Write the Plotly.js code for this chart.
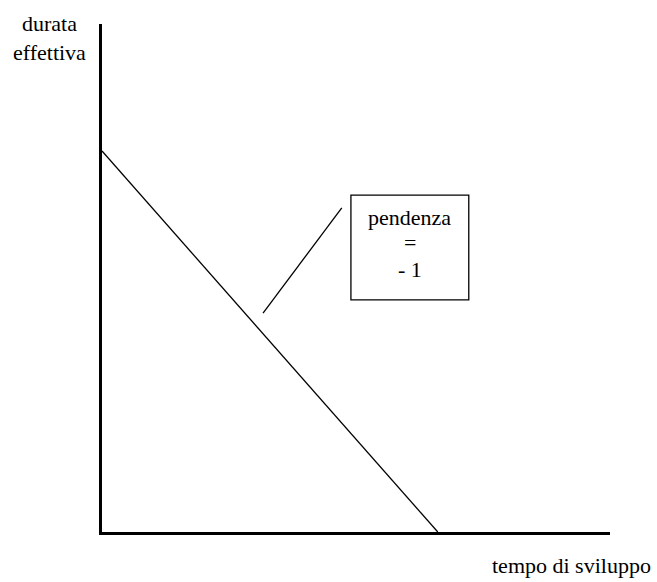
<!DOCTYPE html>
<html>
<head>
<meta charset="utf-8">
<script src="https://cdn.plot.ly/plotly-3.0.1.min.js"></script>
<style>html,body{margin:0;padding:0;background:#fff;}#chart{width:657px;height:582px;}</style>
</head>
<body>
<div id="chart"></div>
<script>
// Data (axis units 0..100 in both directions)
const lineX = [0, 66.1];
const lineY = [75, 0];
const leaderX = [31.7, 47.2];
const leaderY = [43.1, 63.8];
const boxX = [49.0, 72.2];
const boxY = [45.7, 66.3];
const boxLines = ["pendenza", "=", "- 1"];
const boxLineY = [62.0, 56.9, 51.6];
const xLabel = "tempo di sviluppo";
const yLabel = "durata<br>effettiva";

const FONT = "Liberation Serif, Times New Roman, serif";

const traces = [
  {x: lineX, y: lineY, mode: "lines", line: {color: "#000", width: 1.3}, hoverinfo: "skip", showlegend: false},
  {x: leaderX, y: leaderY, mode: "lines", line: {color: "#000", width: 1.3}, hoverinfo: "skip", showlegend: false}
];

const boxCx = (boxX[0] + boxX[1]) / 2;
const annotations = boxLines.map((t, i) => ({
  xref: "x", yref: "y", x: boxCx, y: boxLineY[i], text: t, showarrow: false,
  xanchor: "center", yanchor: "middle", font: {family: FONT, size: 22, color: "#000"}
}));
annotations.push(
  {xref: "paper", yref: "paper", x: -0.104, y: 0.973, text: yLabel, showarrow: false, xanchor: "center", yanchor: "middle", font: {family: FONT, size: 22, color: "#000"}},
  {xref: "paper", yref: "paper", x: 0.925, y: -0.065, text: xLabel, showarrow: false, xanchor: "center", yanchor: "middle", font: {family: FONT, size: 22, color: "#000"}}
);

const layout = {
  width: 657, height: 582,
  margin: {l: 102, r: 47, t: 24, b: 50},
  paper_bgcolor: "#fff", plot_bgcolor: "#fff",
  xaxis: {range: [0, 100], showline: true, linecolor: "#000", linewidth: 3, showgrid: false, zeroline: false, showticklabels: false, ticks: "", fixedrange: true},
  yaxis: {range: [0, 100], showline: true, linecolor: "#000", linewidth: 3, showgrid: false, zeroline: false, showticklabels: false, ticks: "", fixedrange: true},
  shapes: [{type: "rect", xref: "x", yref: "y", x0: boxX[0], x1: boxX[1], y0: boxY[0], y1: boxY[1], line: {color: "#000", width: 1.3}, fillcolor: "rgba(0,0,0,0)"}],
  annotations: annotations,
  showlegend: false
};

Plotly.newPlot("chart", traces, layout, {displayModeBar: false, staticPlot: true});
</script>
</body>
</html>
